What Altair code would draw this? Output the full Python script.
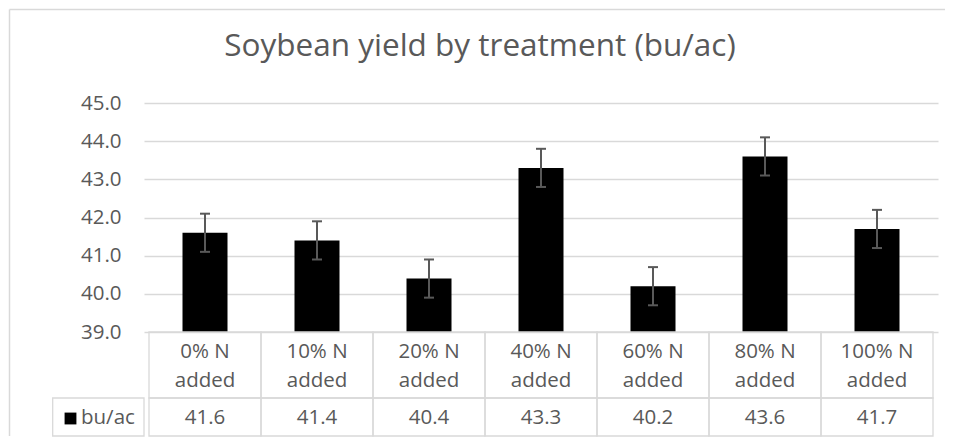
import altair as alt
import pandas as pd

TITLE = "Soybean yield by treatment (bu/ac)"
label_line1 = ["0% N", "10% N", "20% N", "40% N", "60% N", "80% N", "100% N"]
label_line2 = ["added", "added", "added", "added", "added", "added", "added"]
yield_bu_ac = [41.6, 41.4, 40.4, 43.3, 40.2, 43.6, 41.7]
error_bu_ac = [0.5, 0.5, 0.5, 0.5, 0.5, 0.5, 0.5]
y_ticks = [39, 40, 41, 42, 43, 44, 45]
series_name = "bu/ac"

TXT = "#595959"
GRID = "#d9d9d9"
FONT = "Open Sans"
FS = 20.5
W, H = 794, 229

n = len(label_line1)
df = pd.DataFrame({
    "idx": list(range(n)),
    "left": [i for i in range(n)],
    "right": [i + 1 for i in range(n)],
    "pos": [i + 0.5 for i in range(n)],
    "l1": label_line1,
    "l2": label_line2,
    "val": yield_bu_ac,
    "floor": [y_ticks[0]] * n,
    "lo": [v - e for v, e in zip(yield_bu_ac, error_bu_ac)],
    "hi": [v + e for v, e in zip(yield_bu_ac, error_bu_ac)],
    "title": [TITLE] * n,
    "series": [series_name] * n,
})

xs = alt.Scale(domain=[0, n], nice=False, zero=False)
ys = alt.Scale(domain=[39, 45], nice=False, zero=False)


def yaxis():
    return alt.Axis(
        values=y_ticks, format=".1f", grid=True, gridColor=GRID, gridWidth=1.3,
        domain=False, ticks=False, labelFontSize=FS, labelColor=TXT,
        labelFont=FONT, labelPadding=23)


def X(f):
    return alt.X(f, scale=xs, axis=None)


def Y(f):
    return alt.Y(f, scale=ys, title=None, axis=yaxis())


base = alt.Chart(df)
first = base.transform_filter("datum.idx == 0")

bars = base.mark_bar(size=45, color="black").encode(
    x=X("pos:Q"), y=Y("val:Q"), y2="floor:Q")
err = base.mark_rule(color="#595959", strokeWidth=2).encode(
    x=X("pos:Q"), y=Y("lo:Q"), y2="hi:Q")
cap_hi = base.mark_rule(color="#595959", strokeWidth=2, xOffset=-5, x2Offset=5).encode(
    x=X("pos:Q"), x2="pos:Q", y=Y("hi:Q"))
cap_lo = base.mark_rule(color="#595959", strokeWidth=2, xOffset=-5, x2Offset=5).encode(
    x=X("pos:Q"), x2="pos:Q", y=Y("lo:Q"))

cells1 = base.mark_rect(fillOpacity=0, stroke=GRID, strokeWidth=1.3).encode(
    x=X("left:Q"), x2="right:Q", y=alt.value(H), y2=alt.value(295))
cells2 = base.mark_rect(fillOpacity=0, stroke=GRID, strokeWidth=1.3).encode(
    x=X("left:Q"), x2="right:Q", y=alt.value(295), y2=alt.value(333))
head = first.mark_rect(fillOpacity=0, stroke=GRID, strokeWidth=1.3).encode(
    x=alt.value(-91.3), x2=alt.value(0), y=alt.value(295), y2=alt.value(333))

txt_kw = dict(font=FONT, fontSize=FS, color=TXT, baseline="alphabetic", align="center")
t1 = base.mark_text(**txt_kw).encode(x=X("pos:Q"), y=alt.value(255.3), text="l1:N")
t2 = base.mark_text(**txt_kw).encode(x=X("pos:Q"), y=alt.value(284), text="l2:N")
tv = base.mark_text(**txt_kw).encode(x=X("pos:Q"), y=alt.value(321.3),
                                     text=alt.Text("val:Q", format=".1f"))

key = first.mark_square(size=140, color="black", opacity=1).encode(
    x=alt.value(-73.5), y=alt.value(315.5))
keytxt = first.mark_text(font=FONT, fontSize=FS, color=TXT,
                         baseline="alphabetic", align="left").encode(
    x=alt.value(-63), y=alt.value(321.3), text="series:N")
title = first.mark_text(font=FONT, fontSize=31.5, color=TXT,
                        baseline="alphabetic", align="center").encode(
    x=alt.value(336), y=alt.value(-46.7), text="title:N")
bl = first.mark_rule(color=GRID, strokeWidth=1.5).encode(
    x=alt.value(-134.5), y=alt.value(-93.5), y2=alt.value(333))
bt = first.mark_rule(color=GRID, strokeWidth=1.5).encode(
    x=alt.value(-134.5), x2=alt.value(801), y=alt.value(-93.5))

chart = alt.layer(
    bl, bt, bars, err, cap_hi, cap_lo, cells1, cells2, head,
    t1, t2, tv, key, keytxt, title
).properties(
    width=W, height=H, padding=0,
).configure_view(stroke="transparent")

chart.save("out.html", embed_options={"renderer": "svg", "actions": False})
